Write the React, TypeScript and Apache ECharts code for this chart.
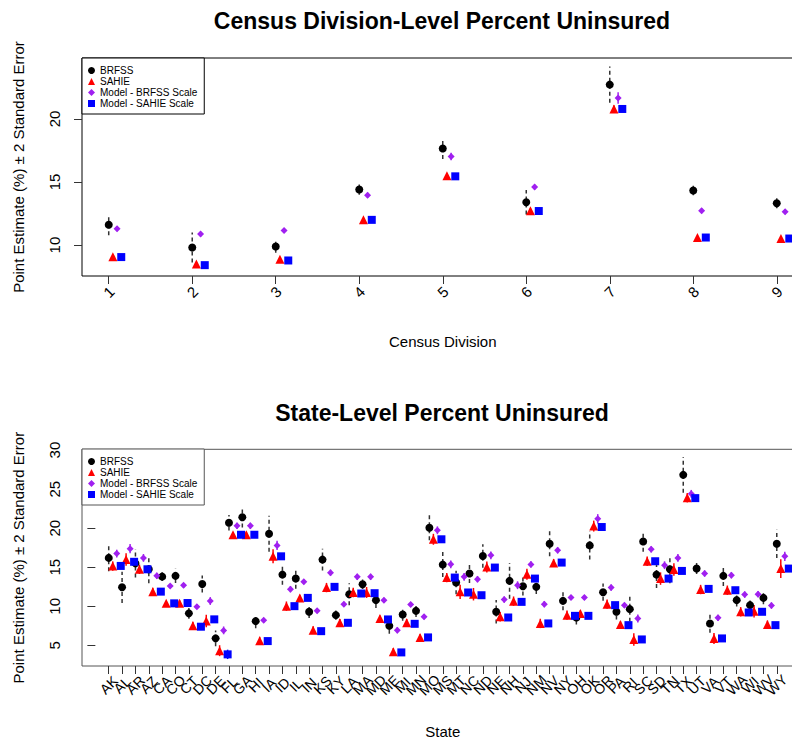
import React, { useEffect, useRef } from "react";
import * as echarts from "echarts";

// ---------- Census division panel ----------
const divisions = ["1", "2", "3", "4", "5", "6", "7", "8", "9"];
const divBrfss = [11.61, 9.81, 9.89, 14.4, 17.65, 13.4, 22.72, 14.33, 13.32];
const divBrfssErr = [0.83, 1.19, 0.5, 0.4, 0.82, 0.97, 1.43, 0.38, 0.4];
const divSahie = [9.08, 8.5, 8.87, 12.0, 15.49, 12.72, 20.79, 10.6, 10.52];
const divSahieErr = [0.15, 0.15, 0.15, 0.15, 0.15, 0.2, 0.3, 0.15, 0.15];
const divModelB = [11.29, 10.87, 11.16, 13.96, 17.02, 14.6, 21.66, 12.72, 12.64];
const divModelBErr = [0.2, 0.2, 0.2, 0.2, 0.3, 0.2, 0.45, 0.2, 0.2];
const divModelS = [9.05, 8.41, 8.78, 12.0, 15.45, 12.7, 20.79, 10.6, 10.52];
const divModelSErr = [0.1, 0.1, 0.1, 0.1, 0.1, 0.1, 0.15, 0.1, 0.1];
const divYTicks = [10, 15, 20];

// ---------- State panel ----------
const states = [
  "AK", "AL", "AR", "AZ", "CA", "CO", "CT", "DC", "DE", "FL", "GA", "HI", "IA",
  "ID", "IL", "IN", "KS", "KY", "LA", "MA", "MD", "ME", "MI", "MN", "MO", "MS",
  "MT", "NC", "ND", "NE", "NH", "NJ", "NM", "NV", "NY", "OH", "OK", "OR", "PA",
  "RI", "SC", "SD", "TN", "TX", "UT", "VA", "VT", "WA", "WI", "WV", "WY",
];
const stBrfss = [
  16.2, 12.44, 15.5, 14.74, 13.8, 13.9, 9.1, 12.86, 5.9, 20.7, 21.4, 8.1, 19.3,
  14.06, 13.55, 9.3, 15.98, 8.87, 11.55, 12.83, 10.79, 7.5, 8.95, 9.42, 20.06, 15.34,
  13.04, 14.2, 16.44, 9.3, 13.26, 12.57, 12.49, 18.0, 10.7, 8.57, 17.8, 11.81, 9.3,
  9.64, 18.3, 14.06, 14.74, 26.83, 14.83, 7.81, 13.9, 10.79, 10.15, 11.08, 18.0,
];
const stBrfssErr = [
  1.7, 2.0, 1.8, 1.8, 0.55, 0.9, 0.7, 1.1, 1.0, 1.0, 1.3, 0.9, 2.3,
  1.3, 1.3, 0.8, 1.4, 0.6, 1.4, 0.6, 1.0, 1.0, 0.8, 0.8, 1.6, 1.6,
  1.5, 1.2, 1.5, 1.5, 2.3, 1.2, 0.9, 1.6, 1.2, 0.9, 1.8, 1.1, 1.0,
  1.6, 1.3, 1.7, 1.8, 2.3, 0.7, 1.2, 1.3, 0.8, 0.8, 0.8, 1.8,
];
const stSahie = [
  15.15, 16.0, 14.74, 11.88, 10.38, 10.38, 7.52, 8.12, 4.32, 19.16, 19.16, 5.6, 16.4,
  10.02, 11.08, 6.95, 12.4, 7.89, 11.77, 11.77, 8.44, 4.17, 7.89, 6.02, 18.58, 13.68,
  11.85, 11.55, 15.04, 8.66, 10.66, 14.1, 7.81, 15.55, 8.87, 9.08, 20.27, 10.28, 7.68,
  5.76, 15.77, 13.55, 14.7, 23.9, 12.15, 5.89, 12.06, 9.3, 9.38, 7.68, 14.83,
];
const stSahieErr = [
  0.6, 0.8, 0.6, 0.5, 0.2, 0.4, 0.5, 0.8, 0.7, 0.3, 0.4, 0.5, 0.9,
  0.6, 0.4, 0.5, 0.6, 0.5, 0.6, 0.7, 0.4, 0.5, 0.5, 0.4, 0.7, 0.6,
  0.9, 0.8, 0.7, 0.6, 0.6, 0.7, 0.6, 0.5, 0.6, 0.4, 0.7, 0.6, 0.4,
  0.8, 0.6, 0.8, 0.8, 0.6, 0.6, 0.7, 0.6, 0.6, 0.8, 0.5, 1.2,
];
const stModelB = [
  16.75, 17.38, 16.2, 13.9, 12.6, 12.69, 9.96, 10.68, 6.92, 20.3, 20.3, 8.22, 17.8,
  12.2, 13.13, 9.42, 14.3, 10.28, 13.77, 13.77, 10.79, 6.95, 10.23, 8.66, 19.73, 15.38,
  13.77, 13.47, 16.53, 10.87, 12.7, 15.36, 10.28, 17.17, 11.13, 11.13, 21.2, 12.4, 10.15,
  8.44, 17.3, 15.26, 16.19, 24.4, 14.2, 8.53, 13.98, 11.5, 11.55, 10.1, 16.4,
];
const stModelBErr = [
  0.5, 0.6, 0.5, 0.4, 0.2, 0.3, 0.3, 0.5, 0.5, 0.4, 0.4, 0.3, 0.6,
  0.4, 0.3, 0.3, 0.4, 0.3, 0.4, 0.4, 0.3, 0.4, 0.3, 0.3, 0.5, 0.5,
  0.5, 0.4, 0.5, 0.4, 0.5, 0.4, 0.4, 0.4, 0.3, 0.3, 0.6, 0.4, 0.3,
  0.5, 0.4, 0.5, 0.5, 0.5, 0.4, 0.4, 0.4, 0.4, 0.4, 0.4, 0.6,
];
const stModelS = [
  15.17, 15.7, 14.74, 11.88, 10.38, 10.42, 7.39, 8.33, 3.85, 19.16, 19.16, 5.55, 16.4,
  10.02, 11.08, 6.82, 12.49, 7.89, 11.64, 11.68, 8.32, 4.1, 7.76, 6.02, 18.58, 13.68,
  11.77, 11.42, 14.96, 8.57, 10.57, 13.55, 7.81, 15.6, 8.78, 8.78, 20.15, 10.15, 7.59,
  5.76, 15.77, 13.55, 14.53, 23.85, 12.23, 5.89, 12.06, 9.21, 9.3, 7.59, 14.83,
];
const stModelSErr = [
  0.3, 0.4, 0.3, 0.3, 0.1, 0.2, 0.3, 0.4, 0.6, 0.2, 0.2, 0.3, 0.4,
  0.3, 0.2, 0.3, 0.3, 0.3, 0.3, 0.3, 0.3, 0.3, 0.2, 0.2, 0.3, 0.3,
  0.4, 0.3, 0.4, 0.3, 0.4, 0.3, 0.3, 0.3, 0.2, 0.2, 0.4, 0.3, 0.2,
  0.4, 0.3, 0.4, 0.3, 0.3, 0.3, 0.3, 0.3, 0.3, 0.3, 0.3, 0.4,
];
const stYTicks = [5, 10, 15, 20, 25, 30];

const seriesNames = ["BRFSS", "SAHIE", "Model - BRFSS Scale", "Model - SAHIE Scale"];
const colors = ["#000000", "#ff0000", "#a020f0", "#0000ff"];
const symbols = ["circle", "triangle", "diamond", "rect"];
const symbolSizes = [8, 9, 7, 8];

const FONT = "'Liberation Sans', Arial, Helvetica, sans-serif";

function panelSeries(
  xAxisIndex: number,
  yAxisIndex: number,
  values: number[][],
  errs: number[][],
  offsets: number[]
) {
  const out: any[] = [];
  values.forEach((vals, k) => {
    const dashed = k === 0;
    out.push({
      type: "custom",
      name: seriesNames[k] + " error",
      xAxisIndex,
      yAxisIndex,
      dimensions: ["x", "lo", "hi"],
      encode: { x: 0, y: [1, 2] },
      z: 2,
      silent: true,
      data: vals.map((v, i) => [i + 1 + offsets[k], v - errs[k][i], v + errs[k][i]]),
      renderItem: (params: any, api: any) => {
        const x = api.value(0);
        const p1 = api.coord([x, api.value(1)]);
        const p2 = api.coord([x, api.value(2)]);
        return {
          type: "line",
          shape: { x1: p1[0], y1: p1[1], x2: p2[0], y2: p2[1] },
          style: {
            stroke: dashed ? "#333" : colors[k],
            lineWidth: 1.5,
            lineDash: dashed ? [4, 3] : null,
          },
        };
      },
    });
    out.push({
      type: "scatter",
      name: seriesNames[k],
      xAxisIndex,
      yAxisIndex,
      symbol: symbols[k],
      symbolSize: symbolSizes[k],
      itemStyle: { color: colors[k], opacity: 1 },
      z: 3,
      data: vals.map((v, i) => [i + 1 + offsets[k], v]),
    });
  });
  return out;
}

export default function App() {
  const ref = useRef<HTMLDivElement>(null);
  useEffect(() => {
    if (!ref.current) return;
    const chart = echarts.init(ref.current, null, { renderer: "svg" });

    const gridL = 82;
    const gridW = 721.5;
    const tickStyle = { color: "#333", width: 1 };
    const nameStyle = { fontSize: 15, color: "#000", fontFamily: FONT };

    // category positions -1..53 for the state axis (padding slots are blank)
    const stateSlots = ["", ""].concat(states, ["", ""]);

    const yAxisCommon = (ticks: number[]) => ({
      type: "value",
      axisLine: { show: false },
      splitLine: { show: false },
      axisTick: { show: true, length: 8, customValues: ticks, lineStyle: tickStyle },
      axisLabel: {
        show: true,
        customValues: ticks,
        rotate: 90,
        align: "center",
        verticalAlign: "middle",
        margin: 28,
        fontSize: 15,
        color: "#000",
        fontFamily: FONT,
      },
      name: "Point Estimate (%) \u00b1 2 Standard Error",
      nameLocation: "middle",
      nameGap: 56,
      nameTextStyle: nameStyle,
    });

    const legendCommon = (top: number, border: string) => ({
      left: 82,
      top,
      orient: "vertical",
      data: seriesNames.map((nm, k) => ({ name: nm, icon: symbols[k] })),
      itemWidth: 7,
      itemHeight: 7,
      itemGap: 0,
      padding: [7, 7, 5, 6],
      borderColor: border,
      borderWidth: 1,
      borderRadius: 0,
      backgroundColor: "#fff",
      selectedMode: false,
      textStyle: { fontSize: 10, lineHeight: 11, color: "#000", fontFamily: FONT },
      z: 10,
    });

    const option: any = {
      animation: false,
      backgroundColor: "#ffffff",
      textStyle: { fontFamily: FONT },
      title: [
        {
          text: "Census Division-Level Percent Uninsured",
          left: "center",
          top: 9,
          padding: 0,
          textStyle: { fontSize: 23, fontWeight: "bold", color: "#000", fontFamily: FONT },
        },
        {
          text: "State-Level Percent Uninsured",
          left: "center",
          top: 401,
          padding: 0,
          textStyle: { fontSize: 23, fontWeight: "bold", color: "#000", fontFamily: FONT },
        },
      ],
      legend: [legendCommon(58, "#000"), legendCommon(449, "#555")],
      grid: [
        {
          left: gridL,
          top: 58,
          width: gridW,
          height: 218,
          show: true,
          borderColor: "#000",
          borderWidth: 1,
          backgroundColor: "transparent",
          outerBoundsMode: "none",
          containLabel: false,
        },
        {
          left: gridL,
          top: 449.3,
          width: gridW,
          height: 216.7,
          show: true,
          borderColor: "#555",
          borderWidth: 1,
          backgroundColor: "transparent",
          outerBoundsMode: "none",
          containLabel: false,
        },
      ],
      xAxis: [
        {
          type: "value",
          gridIndex: 0,
          min: 0.68,
          max: 9.32,
          name: "Census Division",
          nameLocation: "middle",
          nameGap: 58,
          nameTextStyle: nameStyle,
          axisLine: { show: false },
          splitLine: { show: false },
          axisTick: {
            show: true,
            length: 8,
            customValues: divisions.map((_, i) => i + 1),
            lineStyle: tickStyle,
          },
          axisLabel: {
            show: true,
            customValues: divisions.map((_, i) => i + 1),
            formatter: (v: number) => divisions[Math.round(v) - 1] ?? "",
            rotate: 45,
            align: "center",
            verticalAlign: "middle",
            margin: 16,
            fontSize: 15,
            color: "#000",
            fontFamily: FONT,
          },
        },
        {
          type: "category",
          gridIndex: 1,
          data: stateSlots,
          boundaryGap: false,
          name: "State",
          nameLocation: "middle",
          nameGap: 58,
          nameTextStyle: nameStyle,
          axisLine: { show: false },
          splitLine: { show: false },
          axisTick: {
            show: true,
            length: 8,
            interval: (idx: number, val: string) => val !== "",
            lineStyle: tickStyle,
          },
          axisLabel: {
            show: true,
            interval: 0,
            rotate: 45,
            align: "center",
            verticalAlign: "middle",
            margin: 19,
            fontSize: 14,
            color: "#000",
            fontFamily: FONT,
          },
        },
        {
          type: "value",
          gridIndex: 1,
          min: -1,
          max: 53,
          show: false,
        },
      ],
      yAxis: [
        { ...yAxisCommon(divYTicks), gridIndex: 0, min: 7.55, max: 24.83 },
        { ...yAxisCommon(stYTicks), gridIndex: 1, min: 2.36, max: 30.1 },
      ],
      series: [
        ...panelSeries(
          0,
          0,
          [divBrfss, divSahie, divModelB, divModelS],
          [divBrfssErr, divSahieErr, divModelBErr, divModelSErr],
          [0, 0.05, 0.1, 0.15]
        ),
        ...panelSeries(
          2,
          1,
          [stBrfss, stSahie, stModelB, stModelS],
          [stBrfssErr, stSahieErr, stModelBErr, stModelSErr],
          [0, 0.3, 0.6, 0.9]
        ),
      ],
    };
    chart.setOption(option);
    return () => chart.dispose();
  }, []);

  return (
    <div
      style={{
        position: "fixed",
        left: 0,
        top: 0,
        width: 792,
        height: 740,
        overflow: "hidden",
        background: "#fff",
      }}
    >
      <div ref={ref} style={{ width: 884, height: 740 }} />
    </div>
  );
}
